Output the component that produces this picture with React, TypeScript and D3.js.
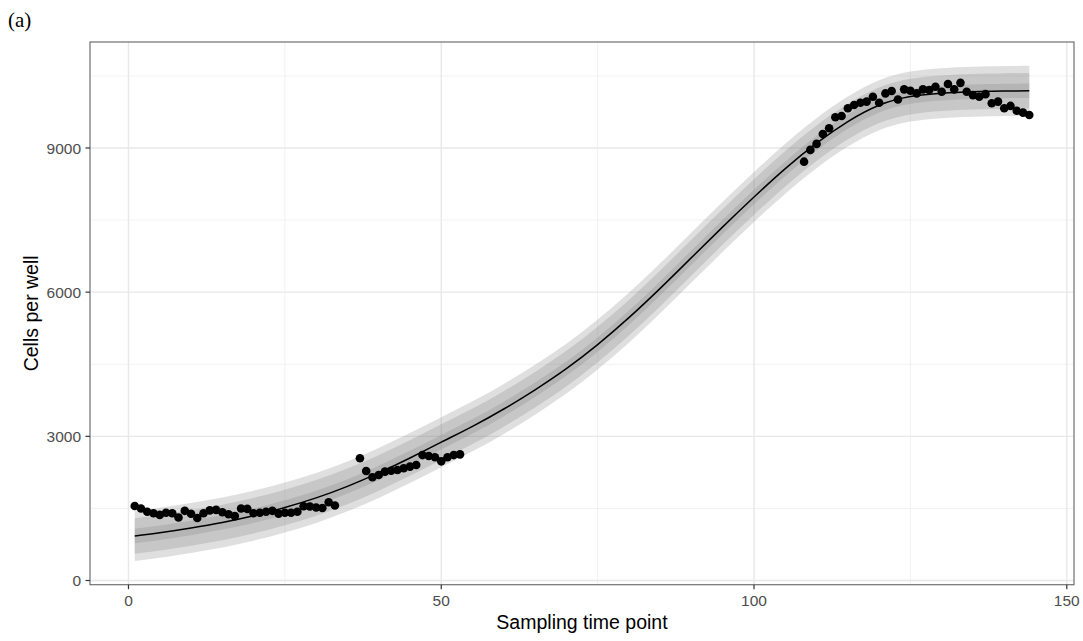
import React from "react";
import * as d3 from "d3";

// fitted curve
const fitX = [1, 5, 10, 15, 20, 25, 30, 35, 40, 45, 50, 55, 60, 65, 70, 75, 80, 85, 90, 95, 100, 105, 110, 115, 120, 125, 130, 135, 140, 144];
const fitY = [926, 994, 1094, 1209, 1349, 1519, 1719, 1959, 2239, 2549, 2879, 3209, 3569, 3969, 4409, 4909, 5469, 6079, 6719, 7359, 7979, 8569, 9099, 9549, 9889, 10069, 10139, 10169, 10184, 10190];

// half widths of the three grey bands (outer -> inner)
const bandHalf = [520, 370, 150];

// observed cells per well
const obsTime1 = d3.range(1, 34);
const obsCells1 = [1550, 1500, 1430, 1400, 1365, 1410, 1400, 1310, 1450, 1390, 1300, 1400, 1460, 1470, 1420, 1380, 1340, 1500, 1490, 1400, 1410, 1430, 1450, 1390, 1410, 1410, 1430, 1545, 1540, 1520, 1510, 1630, 1560];
const obsTime2 = d3.range(37, 54);
const obsCells2 = [2545, 2280, 2150, 2195, 2265, 2285, 2300, 2335, 2370, 2405, 2610, 2590, 2565, 2480, 2565, 2610, 2625];
const obsTime3 = d3.range(108, 145);
const obsCells3 = [8715, 8960, 9085, 9290, 9410, 9640, 9665, 9825, 9895, 9940, 9965, 10065, 9940, 10135, 10185, 10010, 10220, 10190, 10135, 10220, 10205, 10275, 10170, 10330, 10220, 10355, 10170, 10100, 10065, 10120, 9930, 9965, 9825, 9875, 9775, 9735, 9685];

const xMajor = [0, 50, 100, 150];
const xMinor = [25, 75, 125];
const yMajor = [0, 3000, 6000, 9000];
const yMinor = [1500, 4500, 7500, 10500];

const W = 1083;
const H = 641;
const panel = { left: 90, right: 1074, top: 42, bottom: 584.7 };
const font = "'Liberation Sans', Arial, Helvetica, sans-serif";

export default function App() {
  const x = d3.scaleLinear().domain([-6.15, 151.15]).range([panel.left, panel.right]);
  const y = d3.scaleLinear().domain([-87, 11205]).range([panel.bottom, panel.top]);

  const fit = fitX.map((t, i) => ({ t, v: fitY[i] }));
  const obs = [
    ...obsTime1.map((t, i) => ({ t, v: obsCells1[i] })),
    ...obsTime2.map((t, i) => ({ t, v: obsCells2[i] })),
    ...obsTime3.map((t, i) => ({ t, v: obsCells3[i] })),
  ];

  const line = d3
    .line<{ t: number; v: number }>()
    .x((d) => x(d.t))
    .y((d) => y(d.v))
    .curve(d3.curveNatural);

  const ribbon = (hw: number) =>
    d3
      .area<{ t: number; v: number }>()
      .x((d) => x(d.t))
      .y0((d) => y(d.v - hw))
      .y1((d) => y(d.v + hw))
      .curve(d3.curveNatural)(fit) || "";

  return (
    <svg width={W} height={H} style={{ position: "absolute", left: 0, top: 0, background: "#fff" }}>
      <text x={8} y={27} fontFamily="'Liberation Serif', 'Times New Roman', serif" fontSize={21} fill="#000">
        (a)
      </text>

      {/* grid */}
      <g>
        {xMinor.map((v) => (
          <line key={"xm" + v} x1={x(v)} x2={x(v)} y1={panel.top} y2={panel.bottom} stroke="#ededed" strokeWidth={0.8} />
        ))}
        {yMinor.map((v) => (
          <line key={"ym" + v} x1={panel.left} x2={panel.right} y1={y(v)} y2={y(v)} stroke="#ededed" strokeWidth={0.8} />
        ))}
        {xMajor.map((v) => (
          <line key={"xM" + v} x1={x(v)} x2={x(v)} y1={panel.top} y2={panel.bottom} stroke="#e8e8e8" strokeWidth={1.4} />
        ))}
        {yMajor.map((v) => (
          <line key={"yM" + v} x1={panel.left} x2={panel.right} y1={y(v)} y2={y(v)} stroke="#e8e8e8" strokeWidth={1.4} />
        ))}
      </g>

      {/* confidence bands */}
      {bandHalf.map((hw) => (
        <path key={hw} d={ribbon(hw)} fill="#7f7f7f" fillOpacity={0.25} />
      ))}

      <path d={line(fit) || ""} fill="none" stroke="#000" strokeWidth={1.5} />

      {obs.map((d, i) => (
        <circle key={i} cx={x(d.t)} cy={y(d.v)} r={4.3} fill="#000" />
      ))}

      {/* panel border */}
      <rect
        x={panel.left}
        y={panel.top}
        width={panel.right - panel.left}
        height={panel.bottom - panel.top}
        fill="none"
        stroke="#707070"
        strokeWidth={1.2}
      />

      {/* x axis */}
      {xMajor.map((v) => (
        <g key={"xt" + v}>
          <line x1={x(v)} x2={x(v)} y1={panel.bottom} y2={panel.bottom + 4.5} stroke="#333" strokeWidth={1.2} />
          <text x={x(v)} y={panel.bottom + 21} textAnchor="middle" fontFamily={font} fontSize={15.5} fill="#4d4d4d">
            {v}
          </text>
        </g>
      ))}
      {/* y axis */}
      {yMajor.map((v) => (
        <g key={"yt" + v}>
          <line x1={panel.left - 4.5} x2={panel.left} y1={y(v)} y2={y(v)} stroke="#333" strokeWidth={1.2} />
          <text x={panel.left - 9} y={y(v)} dy="0.36em" textAnchor="end" fontFamily={font} fontSize={15.5} fill="#4d4d4d">
            {v}
          </text>
        </g>
      ))}

      <text x={(panel.left + panel.right) / 2} y={629} textAnchor="middle" fontFamily={font} fontSize={19.5} fill="#000">
        Sampling time point
      </text>
      <text
        transform={`translate(38,${(panel.top + panel.bottom) / 2}) rotate(-90)`}
        textAnchor="middle"
        fontFamily={font}
        fontSize={19.5}
        fill="#000"
      >
        Cells per well
      </text>
    </svg>
  );
}
